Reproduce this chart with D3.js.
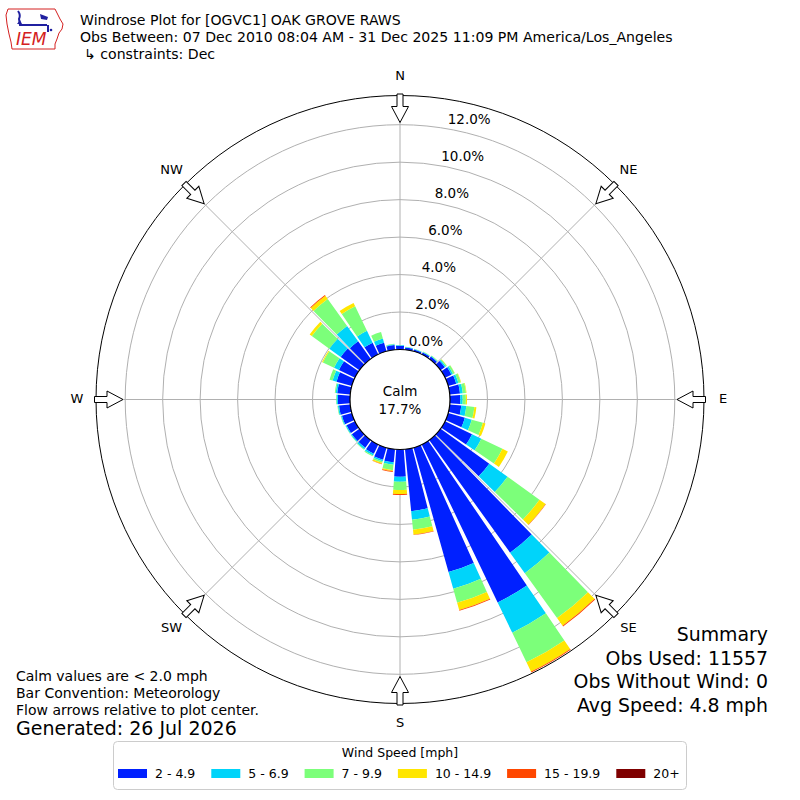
<!DOCTYPE html>
<meta charset="utf-8">
<script src="https://d3js.org/d3.v7.min.js"></script>
<style>
  body { margin: 0; background: #fff; }
  text { font-family: "DejaVu Sans", sans-serif; fill: #000; }
</style>
<body>
<div id="my_dataviz"></div>
<script>

// direction bins (deg, wind from)
var directions = [0, 10, 20, 30, 40, 50, 60, 70, 80, 90, 100, 110,
                  120, 130, 140, 150, 160, 170, 180, 190, 200, 210, 220, 230,
                  240, 250, 260, 270, 280, 290, 300, 310, 320, 330, 340, 350];

var speedBins = ["2 - 4.9", "5 - 6.9", "7 - 9.9", "10 - 14.9", "15 - 19.9", "20+"];
var binColors = ["#0020ff", "#00d4fa", "#7cff7a", "#ffe600", "#ff4700", "#7f0000"];

// percent of observations per direction, one list per speed bin
var pct_2_5   = [0.20, 0.12, 0.10, 0.12, 0.15, 0.28, 0.38, 0.45, 0.55, 0.55, 0.62, 0.93,
                 1.60, 3.20, 7.40, 9.35, 6.90, 3.32, 1.45, 0.70, 0.67, 0.55, 0.50, 0.50,
                 0.50, 0.55, 0.60, 0.65, 0.70, 0.85, 0.95, 1.23, 1.16, 0.70, 0.48, 0.25];
var pct_5_7   = [0.03, 0.03, 0.03, 0.03, 0.04, 0.07, 0.09, 0.12, 0.15, 0.13, 0.27, 0.38,
                 0.55, 1.20, 1.35, 1.80, 0.93, 0.46, 0.27, 0.13, 0.08, 0.10, 0.10, 0.06,
                 0.05, 0.05, 0.06, 0.07, 0.08, 0.22, 0.29, 0.75, 1.01, 0.70, 0.23, 0.04];
var pct_7_10  = [0.01, 0.01, 0.01, 0.02, 0.03, 0.06, 0.10, 0.13, 0.17, 0.17, 0.43, 0.62,
                 1.25, 2.10, 2.95, 1.75, 0.77, 0.54, 0.44, 0.29, 0.09, 0.05, 0.03, 0.02,
                 0.02, 0.02, 0.03, 0.03, 0.05, 0.17, 0.66, 1.15, 1.77, 1.45, 0.36, 0.03];
var pct_10_15 = [0, 0, 0, 0, 0, 0.01, 0.01, 0.02, 0.03, 0.06, 0.11, 0.14,
                 0.32, 0.40, 0.50, 0.55, 0.40, 0.26, 0.22, 0.05, 0.06, 0, 0, 0,
                 0, 0, 0, 0, 0, 0, 0.05, 0.14, 0.21, 0.20, 0, 0];
var pct_15_20 = [0, 0, 0, 0, 0, 0, 0, 0, 0, 0, 0, 0,
                 0, 0.02, 0.05, 0.05, 0.05, 0.02, 0.05, 0.05, 0.02, 0, 0, 0,
                 0, 0, 0, 0, 0, 0, 0, 0, 0.05, 0, 0, 0];
var pct_20up  = [0, 0, 0, 0, 0, 0, 0, 0, 0, 0, 0, 0,
                 0, 0, 0, 0, 0, 0, 0, 0, 0, 0, 0, 0,
                 0, 0, 0, 0, 0, 0, 0, 0, 0, 0, 0, 0];

var ringTicks = [0, 2, 4, 6, 8, 10, 12];
var compassNames = ["N", "NE", "E", "SE", "S", "SW", "W", "NW"];
var compassDeg = [0, 45, 90, 135, 180, 225, 270, 315];

var calmPct = "17.7%";
var titleLines = ["Windrose Plot for [OGVC1] OAK GROVE RAWS",
                  "Obs Between: 07 Dec 2010 08:04 AM - 31 Dec 2025 11:09 PM America/Los_Angeles",
                  "\u21B3 constraints: Dec"];
var noteLines = ["Calm values are < 2.0 mph", "Bar Convention: Meteorology",
                 "Flow arrows relative to plot center."];
var generated = "Generated: 26 Jul 2026";
var summaryLines = ["Summary", "Obs Used: 11557", "Obs Without Wind: 0", "Avg Speed: 4.8 mph"];

// layout
var cx = 400, cy = 399.5, calmR = 50, outerR = 304;
var rad = Math.PI / 180;

var svg = d3.select("#my_dataviz").append("svg")
    .attr("width", 800).attr("height", 800);

// radius scale: percent -> px
var r = d3.scaleLinear().domain([0, 12]).range([calmR, 274.8]);

var g = svg.append("g").attr("transform", "translate(" + cx + "," + cy + ")");

// grid rings
g.selectAll(".ring").data(ringTicks).enter().append("circle")
    .attr("r", function(d) { return r(d); })
    .attr("fill", "none").attr("stroke", "#b0b0b0").attr("stroke-width", 1);

// radial lines
g.selectAll(".spoke").data(compassDeg).enter().append("line")
    .attr("x1", 0).attr("y1", 0)
    .attr("x2", function(d) { return outerR * Math.sin(d * rad); })
    .attr("y2", function(d) { return -outerR * Math.cos(d * rad); })
    .attr("stroke", "#b0b0b0").attr("stroke-width", 1);

// stacked bars
var table = directions.map(function(dir, i) {
  return {dir: dir, b0: pct_2_5[i], b1: pct_5_7[i], b2: pct_7_10[i],
          b3: pct_10_15[i], b4: pct_15_20[i], b5: pct_20up[i]};
});
var stacked = d3.stack().keys(["b0", "b1", "b2", "b3", "b4", "b5"])(table);

var halfW = 4.3 * rad;
var arc = d3.arc()
    .innerRadius(function(d) { return r(d[0]); })
    .outerRadius(function(d) { return r(d[1]); })
    .startAngle(function(d) { return d.data.dir * rad - halfW; })
    .endAngle(function(d) { return d.data.dir * rad + halfW; });

g.selectAll(".layer").data(stacked).enter().append("g")
    .attr("fill", function(d, i) { return binColors[i]; })
  .selectAll("path").data(function(d) { return d.filter(function(s) { return s[1] > s[0]; }); })
  .enter().append("path")
    .attr("d", arc);

// outer circle
g.append("circle").attr("r", outerR).attr("fill", "none")
    .attr("stroke", "#000").attr("stroke-width", 1);

// calm circle
g.append("circle").attr("r", calmR).attr("fill", "#fff")
    .attr("stroke", "#000").attr("stroke-width", 1.2);
g.append("text").attr("x", 0).attr("y", -4).attr("text-anchor", "middle")
    .attr("font-size", "13.5px").text("Calm");
g.append("text").attr("x", 0).attr("y", 14).attr("text-anchor", "middle")
    .attr("font-size", "13.5px").text(calmPct);

// ring labels
g.selectAll(".rlab").data(ringTicks).enter().append("text")
    .attr("x", function(d) { return r(d) * Math.sin(10 * rad); })
    .attr("y", function(d) { return -r(d) * Math.cos(10 * rad) - 4.5; })
    .attr("font-size", "13.5px")
    .text(function(d) { return d.toFixed(1) + "%"; });

// compass arrows
var arrowPts = [[-3, -305.5], [3, -305.5], [3, -293], [8.5, -293], [0, -277],
                [-8.5, -293], [-3, -293]];
g.selectAll(".arrow").data(compassDeg).enter().append("polygon")
    .attr("points", arrowPts.map(function(p) { return p.join(","); }).join(" "))
    .attr("transform", function(d) { return "rotate(" + d + ")"; })
    .attr("fill", "#fff").attr("stroke", "#000").attr("stroke-width", 1);

g.selectAll(".clab").data(compassDeg).enter().append("text")
    .attr("x", function(d) { return 323 * Math.sin(d * rad); })
    .attr("y", function(d) { return -323.5 * Math.cos(d * rad) - 0.8; })
    .attr("text-anchor", "middle").attr("dominant-baseline", "central")
    .attr("font-size", "13px")
    .text(function(d, i) { return compassNames[i]; });

// title
svg.selectAll(".title").data(titleLines).enter().append("text")
    .attr("x", function(d, i) { return i == 2 ? 84 : 80; })
    .attr("y", function(d, i) { return 25 + i * 17; })
    .attr("font-size", "14.1px")
    .text(function(d) { return d; });

// logo
var logo = svg.append("g");
logo.append("path")
    .attr("d", "M8,9 L55,9 L57,13 L60,19 L63,24 L62,29 L59,33 L57,39 L55,44 L55,49 L12,49 L11,42 L9,34 L7,24 L6,15 Z")
    .attr("fill", "none").attr("stroke", "#d42020").attr("stroke-width", 1);
logo.append("path")
    .attr("d", "M18,11 Q21,15 19,19 L20,25 L47,25 M48,25 L48,32")
    .attr("fill", "none").attr("stroke", "#2020a0").attr("stroke-width", 2);
logo.append("path").attr("d", "M40,14 L48,17 L47,20 L41,19 Z").attr("fill", "#2020a0");
logo.append("path").attr("d", "M17,24 L20,20 L22,24 Z").attr("fill", "#2020a0");
logo.append("circle").attr("cx", 51).attr("cy", 30).attr("r", 1.3).attr("fill", "#2020a0");
logo.append("text").attr("x", 16).attr("y", 45)
    .attr("font-family", "Liberation Serif").attr("font-style", "italic")
    .attr("font-size", "17px").style("fill", "#d42020").text("IEM");

// notes bottom left
svg.selectAll(".note").data(noteLines).enter().append("text")
    .attr("x", 16).attr("y", function(d, i) { return 681 + i * 17; })
    .attr("font-size", "14px")
    .text(function(d) { return d; });
svg.append("text").attr("x", 16).attr("y", 735).attr("font-size", "19px").text(generated);

// summary bottom right
svg.selectAll(".summ").data(summaryLines).enter().append("text")
    .attr("x", 768).attr("y", function(d, i) { return 641 + i * 23.5; })
    .attr("text-anchor", "end").attr("font-size", "18.9px")
    .text(function(d) { return d; });

// legend
var leg = svg.append("g");
leg.append("rect").attr("x", 113.5).attr("y", 741.5).attr("width", 573).attr("height", 48)
    .attr("rx", 4).attr("fill", "#fff").attr("stroke", "#cccccc");
leg.append("text").attr("x", 400).attr("y", 757).attr("text-anchor", "middle")
    .attr("font-size", "12.5px").text("Wind Speed [mph]");
var lx = 118;
speedBins.forEach(function(lab, i) {
  leg.append("rect").attr("x", lx).attr("y", 769).attr("width", 29).attr("height", 9)
      .attr("fill", binColors[i]);
  var t = leg.append("text").attr("x", lx + 37).attr("y", 778)
      .attr("font-size", "12.5px").text(lab);
  lx += 37 + t.node().getComputedTextLength() + 16;
});

</script>
</body>
